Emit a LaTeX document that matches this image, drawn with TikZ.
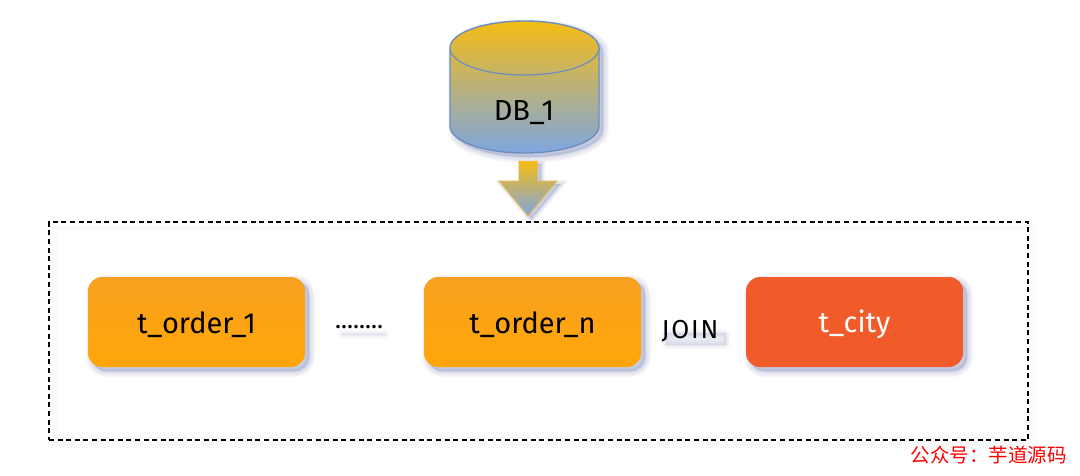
\documentclass[tikz,border=0pt]{standalone}
\usepackage{fontspec}
\setmainfont{Fira Sans}
\newfontfamily\cjk{Noto Sans CJK SC}[Scale=1]
\newfontfamily\wide{Fira Sans}[LetterSpace=7]
\usetikzlibrary{shadows,arrows.meta}
\definecolor{shadowc}{HTML}{7C88BA}
\definecolor{grTop}{HTML}{F5BC14}
\definecolor{grBot}{HTML}{7EA6E0}
\definecolor{blueline}{HTML}{6C8EBF}
\definecolor{goldline}{HTML}{E0BC5A}
\definecolor{orTop}{HTML}{F8A121}
\definecolor{orBot}{HTML}{FFA50A}
\definecolor{redbox}{HTML}{F15A29}
\newcommand{\lowered}[2]{\smash{\raisebox{-#1pt}{#2}}}
\tikzset{
  sl/.style={general shadow={shadow xshift=4pt,shadow yshift=-4pt,fill=shadowc,draw=shadowc,opacity=.05,line width=#1}},
  softshadow/.style={sl=12pt,sl=10pt,sl=8pt,sl=6pt,sl=4pt,sl=2pt,sl=0pt},
  tablebox/.style={minimum width=217pt,minimum height=90pt,rounded corners=14pt,inner sep=0pt,softshadow},
  ordertable/.style={tablebox,top color=orTop,bottom color=orBot,middle color=orBot!60!orTop,text=black},
  citytable/.style={tablebox,fill=redbox,text=white},
  labeltext/.style={font=\fontsize{29}{34}\selectfont,inner sep=0pt},
  glow/.style={fill=shadowc,rounded corners=1pt},
}
\begin{document}
\begin{tikzpicture}[x=1pt,y=-1pt]
\useasboundingbox (0,0) rectangle (1080,475);
\fill[white] (0,0) rectangle (1080,475);
% frame
\foreach \w in {8,6,4}{
  \draw[shadowc,opacity=.008,line width=\w pt] (55,228) rectangle (1033,446);
}
\node[draw=black,dash pattern=on 5pt off 3.6pt,line width=1.5pt,minimum width=979pt,minimum height=218pt,inner sep=0pt] (frame) at (538.5,331) {};
% cylinder shadow
\foreach \w in {12,10,8,6,4,2,0}{
  \filldraw[shadowc,opacity=.05,line width=\w pt,xshift=4pt,yshift=-4pt]
    (450,48) .. controls (450,33) and (483,21) .. (524.5,21) .. controls (566,21) and (599,33) .. (599,48)
    -- (599,126) .. controls (599,141) and (566,153) .. (524.5,153) .. controls (483,153) and (450,141) .. (450,126) -- cycle;
}
% cylinder
\shade[top color=grTop,bottom color=grBot]
    (450,48) .. controls (450,33) and (483,21) .. (524.5,21) .. controls (566,21) and (599,33) .. (599,48)
    -- (599,126) .. controls (599,141) and (566,153) .. (524.5,153) .. controls (483,153) and (450,141) .. (450,126) -- cycle;
\draw[blueline,line width=1.4pt]
    (450,48) .. controls (450,33) and (483,21) .. (524.5,21) .. controls (566,21) and (599,33) .. (599,48)
    -- (599,126) .. controls (599,141) and (566,153) .. (524.5,153) .. controls (483,153) and (450,141) .. (450,126) -- cycle;
\draw[blueline,line width=1.2pt] (450,48) .. controls (450,63) and (483,75) .. (524.5,75) .. controls (566,75) and (599,63) .. (599,48);
\node[labeltext] (db) at (524,120) {\lowered{0}{DB\_1}};
% arrow shadow
\foreach \w in {8,6,4,2,0}{
  \filldraw[shadowc,opacity=.07,line width=\w pt,xshift=3.5pt,yshift=-3pt]
    (518.5,161) -- (537.5,161) -- (537.5,181) -- (557,181) -- (528,216) -- (499,181) -- (518.5,181) -- cycle;
}
\shade[top color=grTop,bottom color=grBot]
    (518.5,161) -- (537.5,161) -- (537.5,181) -- (557,181) -- (528,216) -- (499,181) -- (518.5,181) -- cycle;
\draw[goldline,line width=1pt,line join=miter]
    (518.5,181) -- (499,181) -- (528,216) -- (557,181) -- (537.5,181);
% tables
\node[ordertable,labeltext] (t1) at (196.5,322) {\lowered{11}{t\_order\_1}};
\node[ordertable,labeltext] (tn) at (532.5,322) {\lowered{11}{t\_order\_n}};
\node[citytable,labeltext] (city) at (854.5,322) {\lowered{10.5}{t\_city}};
% soft glows
\foreach \w in {8,6,4,2,0}{
  \filldraw[glow,draw=shadowc,opacity=.02,line width=\w pt] (341,333) rectangle (386,335);
  \filldraw[glow,draw=shadowc,opacity=.035,line width=\w pt] (666,333) rectangle (726,345);
}
\node[font=\fontsize{25}{30}\selectfont,inner sep=0pt] (dots) at (359,328) {\lowered{0}{........}};
\node[font=\wide\fontsize{26}{30}\selectfont,inner sep=0pt] (join) at (690,338) {\lowered{0}{JOIN}};
\node[font=\cjk\fontsize{19.5}{22}\selectfont,text=red,inner sep=0pt,anchor=east] (mark) at (1067,455) {公众号：芋道源码};
\end{tikzpicture}
\end{document}
